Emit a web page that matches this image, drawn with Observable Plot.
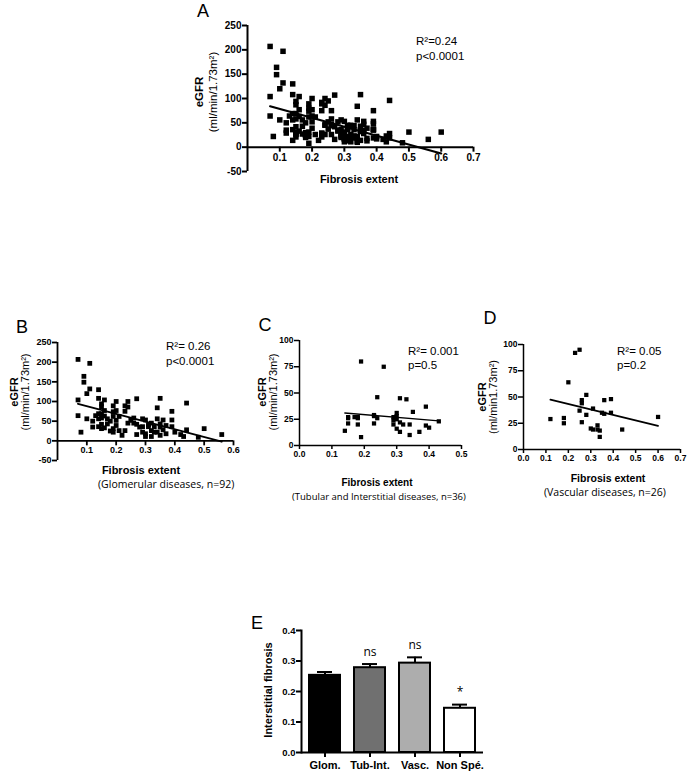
<!DOCTYPE html>
<html><head><meta charset="utf-8">
<script src="https://cdn.jsdelivr.net/npm/d3@7"></script>
<script src="https://cdn.jsdelivr.net/npm/@observablehq/plot@0.6"></script>
<style>
body{margin:0;background:#fff;}
#root{position:relative;width:689px;height:777px;overflow:hidden;background:#fff;color:#000;font-family:"Liberation Sans",Arial,sans-serif;}
.abs{position:absolute;white-space:nowrap;line-height:1;z-index:2;}
.plot{position:absolute;z-index:1;}
</style></head><body><div id="root"></div>
<script>
// ---- Panel B: glomerular diseases (n=92)
const glomFibrosis = [0.07,0.11,0.09,0.09,0.11,0.10,0.07,0.07,0.10,0.08,
  0.14,0.14,0.16,0.15,0.20,0.24,0.27,0.35,0.44,0.34,
  0.39,0.23,0.19,0.24,0.19,0.20,0.23,0.14,0.16,0.15,
  0.14,0.15,0.16,0.17,0.19,0.21,0.12,0.14,0.15,0.16,
  0.17,0.19,0.20,0.23,0.26,0.27,0.28,0.27,0.29,0.30,
  0.29,0.31,0.30,0.30,0.31,0.32,0.32,0.32,0.33,0.34,
  0.35,0.35,0.36,0.36,0.35,0.39,0.39,0.42,0.43,0.44,
  0.50,0.48,0.56,0.21,0.20,0.18,0.12,0.13,0.15,0.25,
  0.26,0.22,0.29,0.33,0.37,0.40,0.24,0.19,0.15,0.18,
  0.34,0.37];
const glomEGFR = [207,197,164,149,132,120,104,64,56,22,
  130,108,104,94,100,100,107,108,96,84,
  75,89,89,86,74,77,75,69,77,87,
  56,58,63,56,62,62,35,36,42,33,
  43,31,39,26,45,42,35,16,56,53,
  36,36,18,11,41,45,26,11,36,56,
  35,14,28,53,43,53,36,16,11,28,
  31,9,16,26,52,50,50,64,69,52,
  58,14,22,22,39,22,45,22,31,25,
  22,18];
// ---- Panel C: tubular and interstitial diseases (n=36)
const tubFibrosis = [0.14,0.15,0.15,0.17,0.18,0.18,0.19,0.19,0.23,0.23,
  0.24,0.24,0.26,0.29,0.29,0.30,0.30,0.30,0.31,0.31,
  0.33,0.32,0.34,0.34,0.35,0.37,0.39,0.39,0.40,0.43,
  0.29,0.30,0.23,0.18,0.31,0.15];
const tubEGFR = [14,21,27,27,26,20,80,8,29,21,
  46,26,75,27,20,25,31,16,45,13,
  44,20,20,10,32,13,37,19,17,23,
  24,28,28,27,22,26];
// ---- Panel D: vascular diseases (n=26)
const vascFibrosis = [0.12,0.18,0.18,0.20,0.23,0.25,0.25,0.26,0.26,0.26,
  0.28,0.28,0.31,0.31,0.33,0.33,0.34,0.34,0.35,0.36,
  0.36,0.39,0.39,0.44,0.60,0.30];
const vascEGFR = [29,30,25,64,92,95,37,47,44,26,
  52,33,39,19,19,23,18,12,35,47,
  34,48,35,19,31,20];
// ---- Panel A: all patients
const allFibrosis = [...glomFibrosis, ...tubFibrosis, ...vascFibrosis];
const allEGFR = [...glomEGFR, ...tubEGFR, ...vascEGFR];
// ---- regression lines (end points)
const fitAX = [0.07, 0.60], fitAY = [84, -13];
const fitBX = [0.07, 0.56], fitBY = [94, -2];
const fitCX = [0.14, 0.43], fitCY = [31, 23.5];
const fitDX = [0.12, 0.60], fitDY = [47.5, 22.5];
// ---- tick values
const ticksAX = [0.1,0.2,0.3,0.4,0.5,0.6,0.7];
const ticksAY = [-50,0,50,100,150,200,250];
const ticksBX = [0.1,0.2,0.3,0.4,0.5,0.6];
const ticksBY = [-50,0,50,100,150,200,250];
const ticksCX = [0,0.1,0.2,0.3,0.4,0.5];
const ticksCY = [0,25,50,75,100];
const ticksDX = [0,0.1,0.2,0.3,0.4,0.5,0.6,0.7];
const ticksDY = [0,25,50,75,100];
// ---- Panel E
const groups = ["Glom.", "Tub-Int.", "Vasc.", "Non Spé."];
const meanFibrosis = [0.253, 0.278, 0.293, 0.145];
const semFibrosis = [0.011, 0.012, 0.019, 0.012];
const barFill = ["#000000", "#707070", "#adadad", "#ffffff"];
const signif = ["", "ns", "ns", "*"];
const ticksEY = [0, 0.1, 0.2, 0.3, 0.4];

const root = document.getElementById("root");
const SANS = '"Liberation Sans", Arial, sans-serif';
const OPEN = '"Open Sans", "Liberation Sans", sans-serif';

function place(svg, left, top) {
  svg.classList.add("plot");
  svg.style.left = left + "px";
  svg.style.top = top + "px";
  root.appendChild(svg);
}

function T(html, x, y, o = {}) {
  const d = document.createElement("div");
  d.className = "abs";
  d.innerHTML = html;
  d.style.left = x + "px";
  d.style.top = y + "px";
  d.style.fontSize = (o.size || 11) + "px";
  d.style.fontWeight = o.bold ? "bold" : "normal";
  d.style.fontFamily = o.font || SANS;
  d.style.transform = o.rot ? "translate(-50%,-50%) rotate(-90deg)" : (o.left ? "translate(0,-50%)" : "translate(-50%,-50%)");
  root.appendChild(d);
}

function scatter(c) {
  const pts = c.xs.map((x, i) => ({x, y: c.ys[i]}));
  const fit = c.fx.map((x, i) => ({x, y: c.fy[i]}));
  const marks = [
    Plot.ruleX([0], {stroke: "#000", strokeWidth: c.aw}),
    Plot.ruleY([0], {stroke: "#000", strokeWidth: c.aw}),
    Plot.axisY(c.yt, {tickSize: 5, tickPadding: 1, tickFormat: d => String(d), fontWeight: "bold", fontSize: c.fs, strokeWidth: c.aw, label: null})
  ];
  if (c.zeroAxis) {
    marks.push(Plot.ruleX(c.xt, {x: d => d, y1: 0, y2: 0, insetBottom: -5, stroke: "#000", strokeWidth: c.aw}));
    marks.push(Plot.text(c.xt, {x: d => d, y: 0, text: d => d.toFixed(1), dy: c.ldy, fontWeight: "bold", fontSize: c.fs}));
  } else {
    marks.push(Plot.axisX(c.xt, {tickSize: 4, tickPadding: 1, tickFormat: d => d.toFixed(1), fontWeight: "bold", fontSize: c.fs, strokeWidth: c.aw, label: null}));
  }
  marks.push(Plot.dot(pts, {x: "x", y: "y", symbol: "square", r: c.r, fill: "#000", stroke: "none"}));
  marks.push(Plot.line(fit, {x: "x", y: "y", stroke: "#000", strokeWidth: c.lw}));
  return Plot.plot({
    width: c.w, height: c.h,
    marginLeft: c.ml, marginRight: c.mr, marginTop: c.mt, marginBottom: c.mb,
    x: {domain: c.xd, axis: null, label: null},
    y: {domain: c.yd, axis: null, label: null},
    style: {background: "transparent", fontFamily: SANS, color: "#000", overflow: "visible"},
    marks
  });
}

// Panel A
place(scatter({xs: allFibrosis, ys: allEGFR, fx: fitAX, fy: fitAY, xt: ticksAX, yt: ticksAY,
  xd: [0, 0.7], yd: [-50, 250], w: 330, h: 200, ml: 87, mr: 17, mt: 25, mb: 29,
  r: 3.1, lw: 2.2, aw: 2, fs: 10, zeroAxis: true, ldy: 11}), 160, 0);
// Panel B
place(scatter({xs: glomFibrosis, ys: glomEGFR, fx: fitBX, fy: fitBY, xt: ticksBX, yt: ticksBY,
  xd: [0, 0.6], yd: [-50, 250], w: 250, h: 160, ml: 57, mr: 17, mt: 22, mb: 20,
  r: 2.7, lw: 2, aw: 1.8, fs: 9, zeroAxis: true, ldy: 9.5}), 0, 320);
// Panel C
place(scatter({xs: tubFibrosis, ys: tubEGFR, fx: fitCX, fy: fitCY, xt: ticksCX, yt: ticksCY,
  xd: [0, 0.5], yd: [0, 100], w: 230, h: 160, ml: 49, mr: 19, mt: 20, mb: 35,
  r: 2.4, lw: 1.4, aw: 1.5, fs: 8.5, zeroAxis: false}), 250, 320);
// Panel D
place(scatter({xs: vascFibrosis, ys: vascEGFR, fx: fitDX, fy: fitDY, xt: ticksDX, yt: ticksDY,
  xd: [0, 0.7], yd: [0, 100], w: 219, h: 160, ml: 53, mr: 9, mt: 24, mb: 31,
  r: 2.4, lw: 1.8, aw: 1.5, fs: 8.5, zeroAxis: false}), 470, 320);

// Panel E
const bars = groups.map((g, i) => ({g, m: meanFibrosis[i], s: semFibrosis[i], f: barFill[i], t: signif[i]}));
place(Plot.plot({
  width: 250, height: 167, marginLeft: 51, marginRight: 17, marginTop: 20, marginBottom: 25,
  x: {domain: groups, paddingInner: 0.316, paddingOuter: 0.166, axis: null, label: null},
  y: {domain: [0, 0.4], axis: null, label: null},
  color: {type: "identity"},
  style: {background: "transparent", fontFamily: SANS, color: "#000", overflow: "visible"},
  marks: [
    Plot.axisY(ticksEY, {tickSize: 5, tickPadding: 1, tickFormat: d => d.toFixed(1), fontWeight: "bold", fontSize: 9.5, strokeWidth: 2, label: null}),
    Plot.axisX(groups, {tickSize: 5, tickPadding: 4, fontWeight: "bold", fontSize: 11, strokeWidth: 2, label: null}),
    Plot.frame({anchor: "left", strokeWidth: 2}),
    Plot.barY(bars, {x: "g", y: "m", fill: "f", stroke: "#000", strokeWidth: 2}),
    Plot.ruleX(bars, {x: "g", y1: "m", y2: d => d.m + d.s, stroke: "#000", strokeWidth: 2}),
    Plot.tickY(bars, {x: "g", y: d => d.m + d.s, stroke: "#000", strokeWidth: 2, insetLeft: 8, insetRight: 8}),
    Plot.ruleY([0], {stroke: "#000", strokeWidth: 2}),
    Plot.text(bars, {x: "g", y: d => d.m + d.s, text: "t", dy: -12, fontFamily: OPEN, fontSize: 12})
  ]
}), 250, 610);

// ---- texts
// A
T("A", 203, 11, {size: 18});
T("eGFR", 200, 92, {rot: true, bold: true, size: 11.5});
T("(ml/min/1.73m²)", 214, 92, {rot: true, size: 11.5});
T("Fibrosis extent", 359, 179, {bold: true, size: 11});
T("R²=0.24", 416, 42, {left: true, size: 11.5});
T("p&lt;0.0001", 416, 57, {left: true, size: 11.5});
// B
T("B", 22, 327, {size: 18});
T("eGFR", 14, 392, {rot: true, bold: true, size: 11});
T("(ml/min/1.73m²)", 25, 392, {rot: true, size: 11});
T("Fibrosis extent", 141, 470, {bold: true, size: 11});
T("(Glomerular diseases, n=92)", 98, 484, {left: true, font: OPEN, size: 10.5});
T("R²= 0.26", 166, 347, {left: true, size: 11.5});
T("p&lt;0.0001", 166, 362, {left: true, size: 11.5});
// C
T("C", 265, 325, {size: 18});
T("eGFR", 262, 392, {rot: true, bold: true, size: 11});
T("(ml/min/1.73m²)", 273, 392, {rot: true, size: 11});
T("Fibrosis extent", 377, 483, {bold: true, size: 10});
T("(Tubular and Interstitial diseases, n=36)", 292, 497, {left: true, font: OPEN, size: 9.5});
T("R²= 0.001", 408, 352, {left: true, size: 11.5});
T("p=0.5", 408, 366, {left: true, size: 11.5});
// D
T("D", 490, 318, {size: 18});
T("eGFR", 482, 397, {rot: true, bold: true, size: 11});
T("(ml/min1.73m²)", 493, 397, {rot: true, size: 11});
T("Fibrosis extent", 608, 478, {bold: true, size: 10.5});
T("(Vascular diseases, n=26)", 544, 492, {left: true, font: OPEN, size: 10.5});
T("R²= 0.05", 617, 352, {left: true, size: 11.5});
T("p=0.2", 617, 366, {left: true, size: 11.5});
// E
T("E", 257, 623, {size: 18});
T("Interstitial fibrosis", 268, 690, {rot: true, bold: true, size: 11});
</script>
</body></html>
